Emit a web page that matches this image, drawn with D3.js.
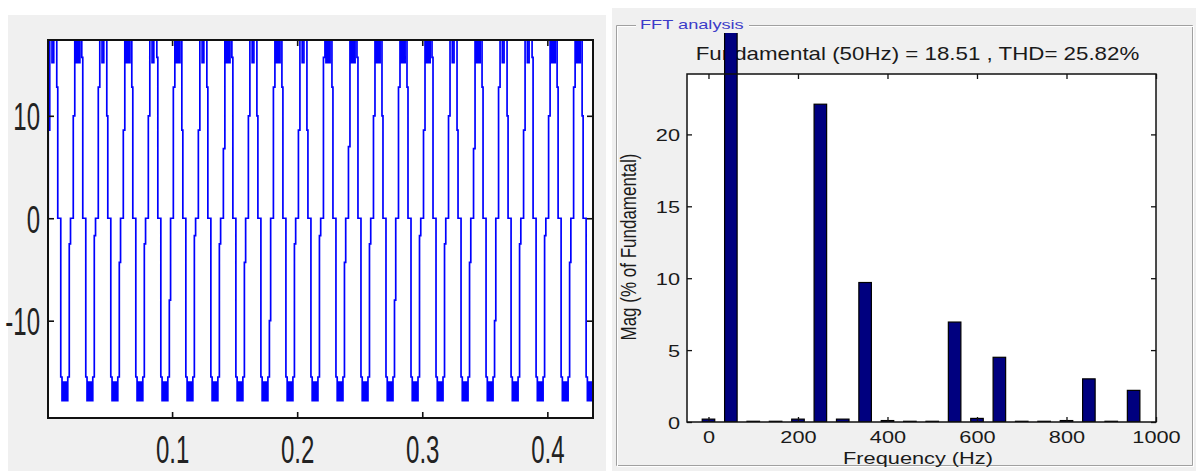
<!DOCTYPE html>
<html><head><meta charset="utf-8">
<script src="https://cdn.jsdelivr.net/npm/d3@7"></script>
<style>body{margin:0;background:#fff}svg{display:block}</style>
</head><body>
<svg id="c" width="1196" height="471"></svg>
<script>
// ---------- DATA ----------
// Left: inverter output voltage, read cycle by cycle (50 Hz)
const cycleStarts = [0,0.02,0.04,0.06,0.08,0.10,0.12,0.14,0.16,0.18,0.20,0.22,0.24,0.26,0.28,0.30,0.32,0.34,0.36,0.38,0.40,0.42];
const peakKind    = ["N","C","N","C","N","C","N","C","N","C","N","C","C","C","C","C","N","C","N","N","C","C"]; // N = notch, C = chattering
const riseStep    = [8.6,10,12.8,8.6,10,12.8,8.6,6.8,10,12.8,8.6,15.7,7,10,12.8,8.6,10,6.8,12.8,8.6,10,12.8];   // intermediate level on rising edge (V)
const fallStep    = [12.8,15.7,10,12.8,15.7,8.6,12.8,15.7,10,12.8,8.6,12.8,15.7,10,12.8,15.7,8.6,12.8,10,15.7,12.8,10]; // intermediate level on falling edge (V)
const negRiseStep = [-2.5,-1.7,-4.3,-2.5,-8,-1.7,-2.5,-4.3,-10,-2.5,-1.7,-4.3,-2.5,-8,-1.7,-2.5,-4.3,-10,-2.5,-1.7,-4.3,-2.5];
// peak details inside a cycle (ms, V)
const notch_ms   = [4.0, 5.4];
const notch_v    = [15.2, 17.8];
const chatter_ms = [3.0, 3.3, 3.6, 3.9, 4.2, 4.5, 4.8, 5.1, 5.4, 5.7, 6.0, 6.3];
const chatter_v  = [15.2,17.8,15.2,17.8,15.2,17.8,15.2,17.8,15.2,17.8,15.2,17.8];
const neg_ms     = [11.0, 12.0, 12.4, 12.8, 13.2, 13.6, 14.0, 14.4, 14.8, 15.2, 15.6, 16.0, 16.6];
const neg_v      = [-15.5,-17.8,-16, -17.8,-16, -17.8,-16, -17.8,-16, -17.8,-16, -17.8,-15.5];
const leftYTicks = [-10, 0, 10];
const leftXTicks = [0.1, 0.2, 0.3, 0.4];

// Right: FFT spectrum
const fftFreq = [0,50,100,150,200,250,300,350,400,450,500,550,600,650,700,750,800,850,900,950];
const fftMag  = [0.2,100,0.05,0.05,0.2,22.1,0.2,9.7,0.1,0.05,0.05,6.95,0.25,4.5,0.05,0.05,0.1,3.0,0.05,2.2];
const rightXTicks = [0,200,400,600,800,1000];
const rightYTicks = [0,5,10,15,20];
const titleText = "Fundamental (50Hz) = 18.51 , THD= 25.82%";
const groupLabel = "FFT analysis";
const xLabel = "Frequency (Hz)";
const yLabel = "Mag (% of Fundamental)";

// ---------- DRAW ----------
const svg = d3.select("#c");
const FONT = "'Liberation Sans', Arial, sans-serif";

// ===== Left panel =====
svg.append("rect").attr("x",8).attr("y",15).attr("width",598).attr("height",456).attr("fill","#f0f0f0");
const L = {x0:48, x1:593, y0:40, y1:418};
const xL = d3.scaleLinear().domain([0.0008, 0.4365]).range([L.x0, L.x1]);
const yL = d3.scaleLinear().domain([-19.5, 17.4]).range([L.y1, L.y0]);
svg.append("rect").attr("x",L.x0).attr("y",L.y0).attr("width",L.x1-L.x0).attr("height",L.y1-L.y0).attr("fill","#fff");
svg.append("clipPath").attr("id","clipL").append("rect")
  .attr("x",L.x0).attr("y",L.y0).attr("width",L.x1-L.x0).attr("height",L.y1-L.y0);

const pts = [];
cycleStarts.forEach((t0,i)=>{
  const add = (ms,v)=>pts.push([t0 + ms/1000, v]);
  add(0, 0);
  add(1.0, riseStep[i]);
  add(2.2, 17.8);
  if (peakKind[i]==="N") notch_ms.forEach((m,j)=>add(m, notch_v[j]));
  else chatter_ms.forEach((m,j)=>add(m, chatter_v[j]));
  add(7.8, fallStep[i]);
  add(8.6, 0);
  neg_ms.forEach((m,j)=>add(m, neg_v[j]));
  add(17.8, negRiseStep[i]);
  add(18.8, 0);
});
const line = d3.line().x(d=>xL(d[0])).y(d=>yL(d[1])).curve(d3.curveStepAfter);
svg.append("path").datum(pts).attr("clip-path","url(#clipL)")
  .attr("d",line).attr("fill","none").attr("stroke","#0000ff").attr("stroke-width",1.7);

function styleLeftText(sel, tx, ty, anchor){
  sel.selectAll("text").attr("x",null).attr("y",0).attr("dy","0.36em")
    .attr("font-family",FONT).attr("font-size",24).attr("fill","#222")
    .attr("text-anchor",anchor)
    .attr("transform",`translate(${tx},${ty}) scale(1,1.62)`);
}
const axLB = svg.append("g").attr("transform",`translate(0,${L.y1})`)
  .call(d3.axisBottom(xL).tickValues(leftXTicks).tickSizeInner(-6).tickSizeOuter(0).tickFormat(d3.format(".1f")));
styleLeftText(axLB, 0, 30.5, "middle");
const axLT = svg.append("g").attr("transform",`translate(0,${L.y0})`)
  .call(d3.axisTop(xL).tickValues(leftXTicks).tickSizeInner(-6).tickSizeOuter(0).tickFormat(""));
const axLL = svg.append("g").attr("transform",`translate(${L.x0},0)`)
  .call(d3.axisLeft(yL).tickValues(leftYTicks).tickSizeInner(-6).tickSizeOuter(0).tickFormat(d=>String(d)));
styleLeftText(axLL, -8, 0, "end");
const axLR = svg.append("g").attr("transform",`translate(${L.x1},0)`)
  .call(d3.axisRight(yL).tickValues(leftYTicks).tickSizeInner(-6).tickSizeOuter(0).tickFormat(""));
[axLB,axLT,axLL,axLR].forEach(a=>{a.select(".domain").remove();a.selectAll("line").attr("stroke","#111").attr("stroke-width",1.6);});
svg.append("rect").attr("x",L.x0).attr("y",L.y0).attr("width",L.x1-L.x0).attr("height",L.y1-L.y0)
  .attr("fill","none").attr("stroke","#111").attr("stroke-width",2);

// ===== Right panel =====
svg.append("rect").attr("x",612).attr("y",8).attr("width",584).attr("height",463).attr("fill","#f0f0f0");
const gf = {x0:616, y0:25, x1:1192, y1:465, gap0:636, gap1:749};
function etched(dx, col){
  svg.append("path").attr("stroke",col).attr("stroke-width",1).attr("fill","none").attr("d",
    `M${gf.gap0},${gf.y0+dx+.5}H${gf.x0+dx+.5}V${gf.y1+dx+.5}H${gf.x1+dx+.5}V${gf.y0+dx+.5}H${gf.gap1}`);
}
etched(0,"#a0a0a0"); etched(1,"#ffffff");
svg.append("text").attr("x",0).attr("y",0).attr("dy","0.36em")
  .attr("transform",`translate(640,24) scale(1.4,1)`)
  .attr("font-family",FONT).attr("font-size",13).attr("fill","#3c3cc8").text(groupLabel);

const R = {x0:687, x1:1156, y0:74, y1:422};
const xR = d3.scaleLinear().domain([-48, 1000]).range([R.x0, R.x1]);
const yR = d3.scaleLinear().domain([0, 24.2]).range([R.y1, R.y0]);
svg.append("rect").attr("x",R.x0).attr("y",R.y0).attr("width",R.x1-R.x0).attr("height",R.y1-R.y0).attr("fill","#fff");

svg.append("text").attr("x",0).attr("y",0)
  .attr("transform",`translate(917.5,60) scale(1.24,1)`).attr("text-anchor","middle")
  .attr("font-family",FONT).attr("font-size",18).attr("fill","#1a1a1a").text(titleText);

svg.append("clipPath").attr("id","clipR").append("rect")
  .attr("x",R.x0).attr("y",33).attr("width",R.x1-R.x0).attr("height",R.y1-33);
const barHalf = 14; // Hz
svg.append("g").attr("clip-path","url(#clipR)").selectAll("rect").data(fftFreq).join("rect")
  .attr("x",(d)=>xR(d-barHalf)).attr("width",(d)=>xR(d+barHalf)-xR(d-barHalf))
  .attr("y",(d,i)=>yR(fftMag[i])).attr("height",(d,i)=>yR(0)-yR(fftMag[i]))
  .attr("fill","#00007f").attr("stroke","#000").attr("stroke-width",1.2);

function styleRightText(sel, tx, ty, anchor){
  sel.selectAll("text").attr("x",null).attr("y",0).attr("dy","0.36em")
    .attr("font-family",FONT).attr("font-size",17).attr("fill","#1a1a1a")
    .attr("text-anchor",anchor)
    .attr("transform",`translate(${tx},${ty}) scale(1.28,1)`);
}
const axRB = svg.append("g").attr("transform",`translate(0,${R.y1})`)
  .call(d3.axisBottom(xR).tickValues(rightXTicks).tickSizeInner(-5).tickSizeOuter(0).tickFormat(d3.format("d")));
styleRightText(axRB, 0, 15, "middle");
const axRT = svg.append("g").attr("transform",`translate(0,${R.y0})`)
  .call(d3.axisTop(xR).tickValues(rightXTicks).tickSizeInner(-5).tickSizeOuter(0).tickFormat(""));
const axRL = svg.append("g").attr("transform",`translate(${R.x0},0)`)
  .call(d3.axisLeft(yR).tickValues(rightYTicks).tickSizeInner(-5).tickSizeOuter(0).tickFormat(d3.format("d")));
styleRightText(axRL, -7, 0, "end");
const axRR = svg.append("g").attr("transform",`translate(${R.x1},0)`)
  .call(d3.axisRight(yR).tickValues(rightYTicks).tickSizeInner(-5).tickSizeOuter(0).tickFormat(""));
[axRB,axRT,axRL,axRR].forEach(a=>{a.select(".domain").remove();a.selectAll("line").attr("stroke","#111").attr("stroke-width",1.3);});
svg.append("rect").attr("x",R.x0).attr("y",R.y0).attr("width",R.x1-R.x0).attr("height",R.y1-R.y0)
  .attr("fill","none").attr("stroke","#111").attr("stroke-width",1.5);

svg.append("text").attr("x",0).attr("y",0).attr("dy","0.36em")
  .attr("transform",`translate(918,458) scale(1.28,1)`).attr("text-anchor","middle")
  .attr("font-family",FONT).attr("font-size",17).attr("fill","#1a1a1a").text(xLabel);
svg.append("text").attr("x",0).attr("y",0).attr("dy","0.36em")
  .attr("transform",`translate(628,247) rotate(-90) scale(1,1.28)`).attr("text-anchor","middle")
  .attr("font-family",FONT).attr("font-size",17).attr("fill","#1a1a1a").text(yLabel);
</script></body></html>
